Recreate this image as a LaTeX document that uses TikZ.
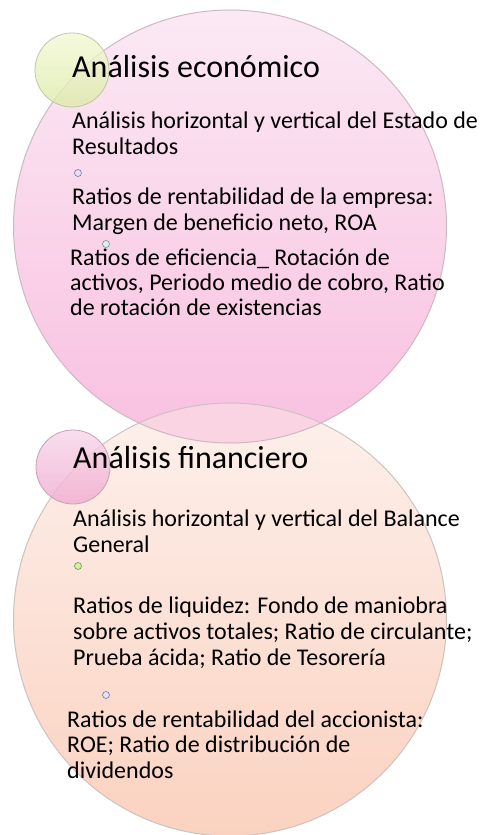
\documentclass[tikz,border=0pt]{standalone}
\usepackage{fontspec}
\setmainfont{Carlito}
\definecolor{pinkTop}{RGB}{251,233,244}
\definecolor{pinkBot}{RGB}{249,192,224}
\definecolor{pinkLine}{RGB}{205,185,195}
\definecolor{peachTop}{RGB}{253,240,236}
\definecolor{peachBot}{RGB}{251,210,192}
\definecolor{peachLine}{RGB}{205,195,190}
\definecolor{lensCol}{RGB}{250,212,226}
\definecolor{greenTop}{RGB}{244,248,214}
\definecolor{greenBot}{RGB}{220,236,168}
\definecolor{greenLine}{RGB}{190,200,165}
\definecolor{spinkTop}{RGB}{248,214,234}
\definecolor{spinkBot}{RGB}{240,170,208}
\definecolor{spinkLine}{RGB}{200,160,182}
\definecolor{lavFill}{RGB}{232,224,246}
\definecolor{lavLine}{RGB}{120,120,165}
\definecolor{cyanFill}{RGB}{218,242,238}
\definecolor{cyanLine}{RGB}{100,150,150}
\definecolor{grnFill}{RGB}{214,240,170}
\definecolor{grnLine}{RGB}{100,150,60}
\begin{document}
\begin{tikzpicture}[x=1pt,y=-1pt,
  bigcirc/.style={circle,minimum size=433pt,inner sep=0pt},
  smallcirc/.style={circle,minimum size=74pt,inner sep=0pt,fill opacity=0.8,line width=0.8pt},
  dotcirc/.style={circle,minimum size=7pt,inner sep=0pt,line width=0.6pt},
  titletext/.style={anchor=base west,inner sep=0pt,font=\fontsize{32}{36}\selectfont},
  bodytext/.style={anchor=base west,inner sep=0pt,align=left,font=\fontsize{24}{26}\selectfont}]
\useasboundingbox (0,0) rectangle (483,835);
\fill[white] (0,0) rectangle (483,835);
% big circles
\node[bigcirc,top color=pinkTop,bottom color=pinkBot] (big1) at (230,226.5) {};
\node[bigcirc,top color=peachTop,bottom color=peachBot] (big2) at (230,619.5) {};
\begin{scope}
  \clip (230,226.5) circle (216.5);
  \fill[lensCol] (230,619.5) circle (216.5);
\end{scope}
\draw[pinkLine,line width=1pt] (big1.center) circle (216.5);
\draw[peachLine,line width=1pt] (big2.center) circle (216.5);
% small circles
\node[smallcirc,draw=greenLine,top color=greenTop,bottom color=greenBot] (s1) at (72,70) {};
\node[smallcirc,draw=spinkLine,top color=spinkTop,bottom color=spinkBot] (s2) at (73,467) {};
% tiny circles
\node[dotcirc,draw=lavLine,fill=lavFill] (d1) at (78,173) {};
\node[dotcirc,draw=cyanLine,fill=cyanFill] (d2) at (106,244) {};
\node[dotcirc,draw=grnLine,fill=grnFill] (d3) at (78,566) {};
\node[dotcirc,draw=lavLine,fill=lavFill] (d4) at (106,695) {};
% texts (base anchor = last line baseline)
\node[titletext] (t1) at (72,77) {Análisis económico};
\node[bodytext] (a1) at (72,154) {Análisis horizontal y vertical del Estado de\\Resultados};
\node[bodytext] (a2) at (72,230) {Ratios de rentabilidad de la empresa:\\Margen de beneficio neto, ROA};
\node[bodytext,font=\fontsize{24}{25}\selectfont] (a3) at (70,315) {Ratios de eficiencia\_ Rotación de\\activos, Periodo medio de cobro, Ratio\\de rotación de existencias};
\node[titletext] (t2) at (73,468) {Análisis financiero};
\node[bodytext] (b1) at (73,552) {Análisis horizontal y vertical del Balance\\General};
\node[bodytext] (b2) at (73,665) {Ratios de liquidez: Fondo de maniobra\\sobre activos totales; Ratio de circulante;\\Prueba ácida; Ratio de Tesorería};
\node[bodytext,font=\fontsize{24}{25.5}\selectfont] (b3) at (67,778) {Ratios de rentabilidad del accionista:\\ROE; Ratio de distribución de\\dividendos};
\end{tikzpicture}
\end{document}
